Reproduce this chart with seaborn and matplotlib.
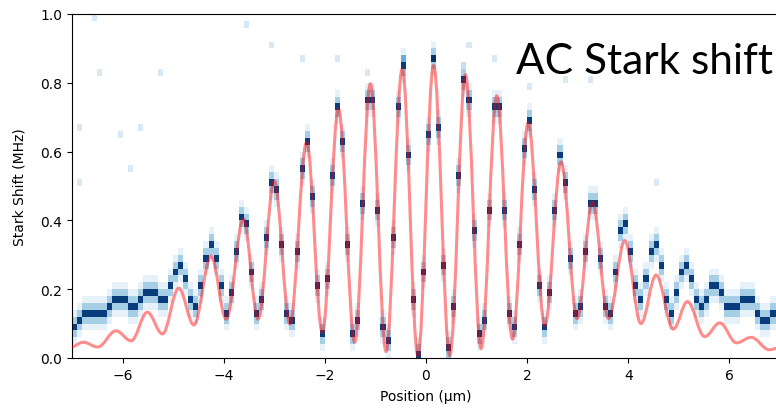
import numpy as np
import pandas as pd
import seaborn as sns
import matplotlib.pyplot as plt
from matplotlib.path import Path
from matplotlib.patches import PathPatch

trace_y = [0.09, 0.11, 0.13, 0.13, 0.12, 0.12, 0.13, 0.15, 0.16, 0.16,
           0.16, 0.15, 0.14, 0.17, 0.19, 0.19, 0.19, 0.17, 0.16, 0.20,
           0.24, 0.26, 0.22, 0.16, 0.15, 0.20, 0.28, 0.33, 0.29, 0.20,
           0.13, 0.19, 0.31, 0.40, 0.38, 0.24, 0.12, 0.16, 0.34, 0.50,
           0.49, 0.32, 0.13, 0.11, 0.30, 0.54, 0.63, 0.47, 0.21, 0.07,
           0.22, 0.53, 0.72, 0.63, 0.32, 0.07, 0.11, 0.44, 0.75, 0.75,
           0.43, 0.09, 0.05, 0.35, 0.73, 0.84, 0.58, 0.17, 0.01, 0.25,
           0.65, 0.86, 0.67, 0.27, 0.02, 0.14, 0.52, 0.81, 0.74, 0.37,
           0.06, 0.10, 0.42, 0.72, 0.73, 0.43, 0.12, 0.08, 0.32, 0.61,
           0.68, 0.49, 0.21, 0.08, 0.19, 0.43, 0.58, 0.51, 0.29, 0.12,
           0.14, 0.30, 0.45, 0.44, 0.29, 0.14, 0.12, 0.24, 0.37, 0.38,
           0.30, 0.21, 0.17, 0.22, 0.30, 0.33, 0.26, 0.16, 0.13, 0.18,
           0.25, 0.26, 0.22, 0.16, 0.14, 0.16, 0.20, 0.215, 0.19, 0.15,
           0.14, 0.15, 0.17, 0.17, 0.16, 0.13, 0.11, 0.11, 0.12, 0.13]
trace_x = np.round(np.arange(-6.95, 7.0, 0.1), 2)

# faint stray counts
noise_x = [-6.58, -6.48, -5.25, -3.56, -6.88, -5.70, -6.07, -5.87, -6.82, -3.08, -2.46,
           -1.75, -1.12, -0.45, 0.12, 0.77, 1.39, 0.88, 2.04, 2.73, 3.28, 4.56]
noise_y = [0.99, 0.826, 0.826, 0.971, 0.672, 0.666, 0.645, 0.541, 0.50, 0.907, 0.863,
           0.869, 0.826, 0.863, 0.869, 0.846, 0.863, 0.907, 0.788, 0.817, 0.805, 0.512]

# fitted AC Stark shift curve: turning points
fit_x = [-7.0, -6.78, -6.49, -6.13, -5.83, -5.51, -5.21, -4.89, -4.59, -4.25, -3.95, -3.61,
         -3.32, -3.00, -2.69, -2.36, -2.05, -1.73, -1.41, -1.10, -0.79, -0.47, -0.16, 0.15,
         0.47, 0.78, 1.09, 1.40, 1.71, 2.02, 2.35, 2.67, 2.99, 3.29, 3.61, 3.93, 4.25, 4.55,
         4.89, 5.17, 5.51, 5.81, 6.14, 6.43, 6.79, 7.0]
fit_y = [0.033, 0.046, 0.032, 0.079, 0.050, 0.133, 0.070, 0.203, 0.096, 0.296, 0.113, 0.404,
         0.113, 0.515, 0.099, 0.627, 0.075, 0.724, 0.046, 0.797, 0.019, 0.840, 0.007, 0.850,
         0.007, 0.823, 0.028, 0.762, 0.055, 0.683, 0.094, 0.570, 0.115, 0.453, 0.115, 0.341,
         0.100, 0.241, 0.084, 0.164, 0.062, 0.102, 0.044, 0.060, 0.024, 0.030]

x_ticks = [-6, -4, -2, 0, 2, 4, 6]
y_ticks = [0.0, 0.2, 0.4, 0.6, 0.8, 1.0]

# histogram grid
row_h = 0.02
x_edges = np.linspace(-7, 7, 141)
y_edges = np.linspace(0, 1, 51)

# each column: line profile around the resonance
profile = {-2: 0.08, -1: 0.35, 0: 0.95, 1: 0.35, 2: 0.08}
rows = []
for x, y in zip(trace_x, trace_y):
    r = np.floor(y / row_h + 1e-6)
    for j, w in profile.items():
        rows.append((x, (r + j + 0.5) * row_h, w))
for x, y in zip(noise_x, noise_y):
    rows.append((x, y, 0.15))
df = pd.DataFrame(rows, columns=['pos', 'shift', 'w'])

fig = plt.figure(figsize=(7.76, 4.10), dpi=100)
ax = fig.add_axes([72 / 776, 51 / 410, 708 / 776, 344 / 410])

sns.histplot(data=df, x='pos', y='shift', weights='w', bins=[x_edges, y_edges],
             cmap='Blues', vmin=0, vmax=1, cbar=False, ax=ax)

# smooth fit through the turning points (flat tangents at each)
verts = [(fit_x[0], fit_y[0])]
codes = [Path.MOVETO]
for x0, y0, x1, y1 in zip(fit_x[:-1], fit_y[:-1], fit_x[1:], fit_y[1:]):
    d = (x1 - x0) * 0.364
    verts += [(x0 + d, y0), (x1 - d, y1), (x1, y1)]
    codes += [Path.CURVE4] * 3
ax.add_patch(PathPatch(Path(verts, codes), fill=False, edgecolor='red', alpha=0.45,
                       lw=2.2, zorder=3))

ax.set_xlim(-7, 7)
ax.set_ylim(0, 1)
ax.set_xticks(x_ticks)
ax.set_yticks(y_ticks)
ax.tick_params(labelsize=10)
ax.set_xlabel('Position (µm)', fontsize=10)
ax.set_ylabel('Stark Shift (MHz)', fontsize=10)
ax.xaxis.set_label_coords(0.5, -0.09)
ax.yaxis.set_label_coords(-0.064, 0.5)

fig.text(516 / 776, (410 - 74) / 410, 'AC Stark shift', fontsize=30.5, family='Lato',
         ha='left', va='baseline')

fig.savefig('out.png', dpi=100)
